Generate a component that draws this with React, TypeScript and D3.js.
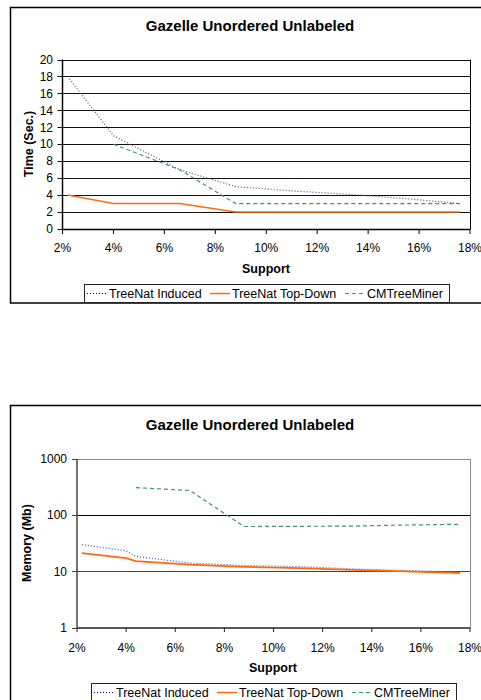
import React from "react";
import * as d3 from "d3";

const support = [2.2, 4.0, 4.4, 6.6, 8.8, 11.0, 13.2, 15.4, 17.6];
const timeInduced = [18, 11, null, 7, 5, 4.5, 4.1, 3.6, 3.0];
const timeTopDown = [4, 3, null, 3, 2, 2, 2, 2, 2];
const timeCM = [null, 10, null, 7, 3, 3, 3, 3, 3];
const memInduced = [30, 23.3, 18.5, 14.1, 12.8, 12.2, 11.1, 10.4, 9.8];
const memTopDown = [21.2, 17.3, 15.3, 13.2, 12.1, 11.5, 10.7, 10.0, 9.4];
const memCM = [null, null, 310, 275, 63, 63.5, 64, 67, 69];
const xTicks = [2, 4, 6, 8, 10, 12, 14, 16, 18];
const timeTicks = [0, 2, 4, 6, 8, 10, 12, 14, 16, 18, 20];
const memTicks = [1, 10, 100, 1000];
const seriesNames = ["TreeNat Induced", "TreeNat Top-Down", "CMTreeMiner"];
const title = "Gazelle Unordered Unlabeled";

const FONT = "'Liberation Sans', Arial, Helvetica, sans-serif";
const COLORS = ["#4a4aa8", "#ff6a10", "#3a9a6a"];
const DASH = ["1,2", null, "4,3"];

function pts(vals: (number | null)[]) {
  return support
    .map((s, i) => [s, vals[i]] as [number, number | null])
    .filter((d) => d[1] !== null) as [number, number][];
}

function Legend({ x, y, w, starts }: { x: number; y: number; w: number; starts: number[] }) {
  return (
    <g>
      <rect x={x + 0.5} y={y + 0.5} width={w} height={18} fill="#fff" stroke="#222" strokeWidth={1} />
      {seriesNames.map((n, i) => (
        <g key={n}>
          <line
            x1={starts[i]}
            x2={starts[i] + 20}
            y1={y + 9.5}
            y2={y + 9.5}
            stroke={i === 0 ? "#000080" : COLORS[i]}
            strokeWidth={i === 1 ? 1.5 : 1}
            strokeDasharray={DASH[i] ?? undefined}
          />
          <text x={starts[i] + 22} y={y + 14} fontSize={12.5} fontFamily={FONT} fill="#000">
            {n}
          </text>
        </g>
      ))}
    </g>
  );
}

function TimeChart() {
  const x = d3.scaleLinear().domain([2, 18]).range([62.5, 470]);
  const y = d3.scaleLinear().domain([0, 20]).range([229, 59.5]);
  const line = d3
    .line<[number, number]>()
    .x((d) => x(d[0]))
    .y((d) => y(d[1]));
  const series = [timeInduced, timeTopDown, timeCM];
  return (
    <g>
      <rect x={10.5} y={7.5} width={480} height={295.5} fill="#fff" stroke="#000" strokeWidth={1.5} />
      <text x={250} y={31} textAnchor="middle" fontSize={15} fontWeight="bold" fontFamily={FONT}>
        {title}
      </text>
      {timeTicks.map((t) => (
        <g key={t}>
          <line x1={x(2) - 5} x2={470} y1={Math.round(y(t)) + 0.5} y2={Math.round(y(t)) + 0.5} stroke="#111" strokeWidth={1} />
          <text x={53} y={y(t) + 4.2} textAnchor="end" fontSize={12} fontFamily={FONT}>
            {t}
          </text>
        </g>
      ))}
      <line x1={470.5} x2={470.5} y1={59.5} y2={229} stroke="#000" />
      <line x1={62.5} x2={62.5} y1={59.5} y2={229} stroke="#000" strokeWidth={1.5} />
      <line x1={62.5} x2={470} y1={229.5} y2={229.5} stroke="#000" strokeWidth={1.5} />
      {xTicks.map((t) => (
        <g key={t}>
          <line x1={x(t)} x2={x(t)} y1={229} y2={234} stroke="#000" />
          <text x={x(t)} y={251.5} textAnchor="middle" fontSize={12} fontFamily={FONT}>
            {t}%
          </text>
        </g>
      ))}
      <text x={266} y={272.5} textAnchor="middle" fontSize={12.5} fontWeight="bold" fontFamily={FONT}>
        Support
      </text>
      <text
        transform={`translate(32.5,144) rotate(-90)`}
        textAnchor="middle"
        fontSize={12.5}
        fontWeight="bold"
        fontFamily={FONT}
      >
        Time (Sec.)
      </text>
      {series.map((s, i) => (
        <path
          key={i}
          d={line(pts(s)) ?? ""}
          fill="none"
          stroke={COLORS[i]}
          strokeWidth={i === 1 ? 1.5 : 1.2}
          strokeDasharray={DASH[i] ?? undefined}
        />
      ))}
      <Legend x={84} y={284} w={365} starts={[87, 210, 345]} />
    </g>
  );
}

function MemChart() {
  const x = d3.scaleLinear().domain([2, 18]).range([77, 470]);
  const y = d3.scaleLog().domain([1, 1000]).range([627.7, 459]);
  const line = d3
    .line<[number, number]>()
    .x((d) => x(d[0]))
    .y((d) => y(d[1]));
  const series = [memInduced, memTopDown, memCM];
  return (
    <g>
      <rect x={10.5} y={405.5} width={480} height={400} fill="#fff" stroke="#000" strokeWidth={1.5} />
      <text x={250} y={430} textAnchor="middle" fontSize={15} fontWeight="bold" fontFamily={FONT}>
        {title}
      </text>
      <line x1={77} x2={470} y1={459.5} y2={459.5} stroke="#888" />
      <line x1={470.5} x2={470.5} y1={459} y2={628} stroke="#888" />
      {memTicks.map((t) => (
        <g key={t}>
          {t === 10 || t === 100 ? (
            <line x1={77} x2={470} y1={Math.round(y(t)) + 0.5} y2={Math.round(y(t)) + 0.5} stroke={t === 100 ? "#000" : "#444"} />
          ) : null}
          <line x1={72} x2={77} y1={Math.round(y(t)) + 0.5} y2={Math.round(y(t)) + 0.5} stroke="#444" />
          <text x={67} y={y(t) + 4.2} textAnchor="end" fontSize={12} fontFamily={FONT}>
            {t}
          </text>
        </g>
      ))}
      <line x1={77} x2={77} y1={459} y2={628} stroke="#444" strokeWidth={1.5} />
      <line x1={77} x2={470} y1={628} y2={628} stroke="#222" strokeWidth={1.5} />
      {xTicks.map((t) => (
        <g key={t}>
          <line x1={x(t)} x2={x(t)} y1={628} y2={632} stroke="#222" />
          <text x={x(t)} y={651.5} textAnchor="middle" fontSize={12} fontFamily={FONT}>
            {t}%
          </text>
        </g>
      ))}
      <text x={273} y={672} textAnchor="middle" fontSize={12.5} fontWeight="bold" fontFamily={FONT}>
        Support
      </text>
      <text
        transform={`translate(31,543) rotate(-90)`}
        textAnchor="middle"
        fontSize={12.5}
        fontWeight="bold"
        fontFamily={FONT}
      >
        Memory (Mb)
      </text>
      {series.map((s, i) => (
        <path
          key={i}
          d={line(pts(s)) ?? ""}
          fill="none"
          stroke={COLORS[i]}
          strokeWidth={i === 1 ? 1.8 : 1.2}
          strokeDasharray={DASH[i] ?? undefined}
        />
      ))}
      <Legend x={91} y={683} w={365} starts={[94, 217, 352]} />
    </g>
  );
}

export default function App() {
  return (
    <svg
      width={481}
      height={700}
      style={{ position: "absolute", left: 0, top: 0, background: "#fff" }}
      xmlns="http://www.w3.org/2000/svg"
    >
      <rect width={481} height={700} fill="#fff" />
      <TimeChart />
      <MemChart />
    </svg>
  );
}
